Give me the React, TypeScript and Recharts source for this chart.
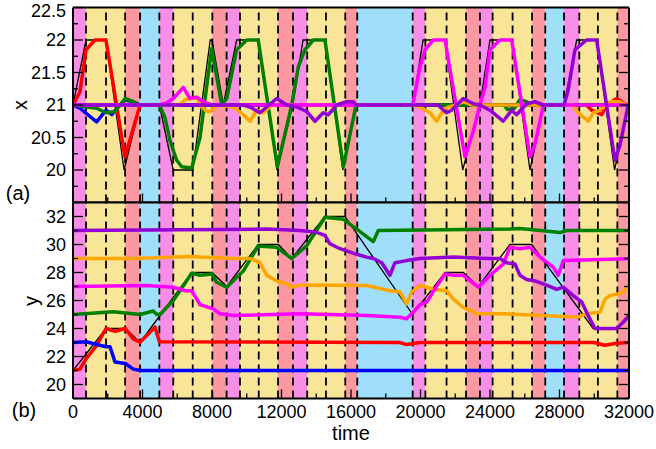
import React from 'react';
import { ComposedChart, Line, XAxis, YAxis, ReferenceArea, ReferenceLine } from 'recharts';

type Pt = [number, number];

// phase bands along the time axis: edges and the phase of each band
const bandEdges = [0, 750, 3000, 3860, 4970, 5770, 8020, 8840, 9610, 11800, 12660, 13480, 15670, 16360, 19550, 20280, 22620, 23420, 24150, 26420, 27180, 28260, 29140, 31330, 32000];
const bandKinds = ['p', 'y', 's', 'b', 'p', 'y', 's', 'p', 'y', 's', 'p', 'y', 's', 'b', 'p', 'y', 's', 'p', 'y', 's', 'b', 'p', 'y', 's'];
const dashTimes = [750, 1900, 3000, 3860, 4970, 5770, 6890, 8020, 8840, 9610, 10690, 11800, 12660, 13480, 14560, 15670, 16360, 19550, 20280, 21500, 22620, 23420, 24150, 25300, 26420, 27180, 28260, 29140, 30210, 31330];

const timeTicks = [0, 2000, 4000, 6000, 8000, 10000, 12000, 14000, 16000, 18000, 20000, 22000, 24000, 26000, 28000, 30000, 32000];
const xTicks = [19.5, 19.75, 20, 20.25, 20.5, 20.75, 21, 21.25, 21.5, 21.75, 22, 22.25, 22.5];
const yTicks = [19, 20, 21, 22, 23, 24, 25, 26, 27, 28, 29, 30, 31, 32, 33];

// panel (a): x position
const targetX: Pt[] = [[0, 21], [750, 22], [1900, 22], [2940, 20], [3860, 21], [4970, 21], [5770, 20], [6890, 20], [7900, 22], [8000, 22], [8650, 21], [9420, 22], [10690, 22], [11740, 20], [12640, 21], [13240, 22], [14500, 22], [15530, 20], [16300, 21], [19550, 21], [20150, 22], [21400, 22], [22430, 20], [23420, 21], [24000, 22], [25250, 22], [26300, 20], [27100, 21], [28260, 21], [28990, 22], [30140, 22], [31170, 20], [31950, 21], [32000, 21]];
const redX: Pt[] = [[0, 21], [400, 21.2], [750, 21.85], [1270, 22], [1900, 22], [2990, 20.2], [3860, 21], [29560, 21], [29850, 20.92], [30430, 20.85], [30710, 21.0], [31290, 21.1], [31770, 21.02], [32000, 21]];
const blueX: Pt[] = [[0, 21], [400, 20.95], [1360, 20.74], [1900, 20.92], [2230, 20.85], [2520, 20.95], [3000, 21.08], [3470, 21.05], [3860, 21], [32000, 21]];
const greenX: Pt[] = [[0, 21], [1360, 20.95], [1900, 20.88], [2420, 20.9], [3000, 21.1], [3470, 21.05], [3860, 21], [4970, 21], [5300, 20.8], [5580, 20.45], [5970, 20.15], [6260, 20.05], [6830, 20.03], [7310, 20.5], [7980, 21.87], [8560, 21], [8850, 21.1], [9420, 21.85], [10000, 22], [10660, 22], [11760, 20.05], [12590, 21], [12970, 21.59], [13350, 21.85], [13830, 22], [14500, 22], [15560, 20.05], [16290, 21], [24800, 21], [25000, 20.93], [25400, 20.95], [25720, 21.08], [26110, 21.05], [26400, 21], [32000, 21]];
const orangeX: Pt[] = [[0, 21], [6160, 21], [6450, 21.08], [7120, 21.12], [7310, 21.0], [7700, 20.9], [7900, 20.9], [8270, 21], [9230, 20.97], [9800, 20.85], [10190, 20.75], [10570, 20.92], [10950, 20.88], [11430, 21.0], [19550, 21], [19970, 20.97], [20550, 20.88], [20930, 20.75], [21310, 20.92], [21600, 20.97], [22080, 21.0], [22460, 21.05], [23000, 21], [28800, 21], [29000, 20.9], [29660, 20.75], [29940, 20.88], [30330, 20.92], [30900, 21.05], [31480, 21.05], [31940, 21], [32000, 21]];
const magentaX: Pt[] = [[0, 21], [4970, 21], [5390, 21.03], [5770, 21.1], [6350, 21.27], [6730, 21.1], [7120, 21.12], [7480, 21.05], [8000, 21], [19550, 21], [19970, 21.59], [20260, 21.85], [20740, 22], [21410, 22], [22560, 20.2], [23040, 20.6], [23420, 21], [23710, 21.27], [24000, 21.85], [24570, 22], [25250, 22], [26300, 20.2], [26590, 20.4], [27070, 21], [32000, 21]];
const purpleX: Pt[] = [[0, 21], [9800, 21], [10190, 20.97], [10760, 20.88], [11150, 20.97], [11720, 21.1], [12300, 21.0], [12870, 20.97], [13450, 20.9], [13930, 20.75], [14400, 20.88], [14690, 20.85], [15180, 21.0], [15750, 21.05], [16130, 21.05], [16330, 21], [21000, 21], [21500, 20.88], [21790, 20.92], [22460, 21.1], [23040, 21.02], [23420, 21.0], [24000, 20.92], [24760, 20.75], [25250, 20.92], [25530, 20.85], [26110, 21.02], [26590, 21.05], [27070, 21.0], [28260, 21], [28500, 21.23], [28890, 21.85], [29560, 22], [30140, 22], [31190, 20.15], [31480, 20.38], [31950, 21], [32000, 21]];

// panel (b): y position
const targetY: Pt[] = [[0, 21], [1900, 24], [3010, 24], [3860, 23], [6830, 28], [8000, 28], [8850, 27], [10660, 30], [11820, 30], [12590, 29], [14500, 32], [15650, 32], [19550, 25], [21410, 28], [22460, 28], [23330, 27], [25150, 30], [26400, 30], [29940, 24], [31290, 24], [32000, 25]];
const redY: Pt[] = [[0, 21], [400, 21.1], [750, 21.83], [1360, 22.8], [1900, 24], [2420, 23.8], [3010, 24], [3470, 23.26], [3860, 23.02], [4330, 23.6], [4720, 24.1], [4970, 23.05], [18800, 23], [19200, 22.85], [19970, 23.0], [30000, 23], [30600, 22.8], [31300, 22.95], [32000, 23]];
const blueY: Pt[] = [[0, 23], [750, 23.05], [1550, 22.8], [1900, 22.7], [2130, 22.7], [2420, 21.6], [3010, 21.5], [3470, 21.1], [3860, 21.0], [32000, 21]];
const greenY: Pt[] = [[0, 25], [2320, 25.2], [3860, 25], [4620, 25.25], [4820, 25], [5010, 25], [5770, 26.0], [6160, 26.7], [6830, 27.95], [7310, 27.8], [8000, 27.9], [8270, 27.3], [8850, 26.95], [9800, 28.1], [10660, 29.9], [11720, 29.8], [12590, 29.0], [13450, 29.9], [14500, 31.95], [15560, 31.8], [16330, 31.1], [17280, 30.2], [17570, 31.0], [25150, 31.1], [25720, 31.15], [26880, 31], [28030, 30.85], [28410, 31], [32000, 31]];
const orangeY: Pt[] = [[0, 29], [3470, 29], [6830, 29.15], [7310, 29.1], [9230, 29.0], [10190, 29.0], [10760, 28.7], [11150, 27.8], [11720, 27.4], [12300, 27.2], [12590, 26.95], [13060, 27.1], [16900, 27.07], [18240, 26.7], [18820, 26.6], [19200, 25.76], [19490, 26.6], [19970, 27.07], [20740, 26.8], [21500, 26.7], [21890, 26.1], [22460, 25.5], [23040, 25.2], [23140, 25.05], [24760, 25.05], [27640, 24.9], [28990, 24.8], [29560, 25.05], [30330, 25.17], [30620, 26.1], [30900, 26.35], [31480, 26.5], [31860, 26.8], [32000, 27.07]];
const magentaY: Pt[] = [[0, 27], [4240, 27.07], [5770, 26.95], [6450, 26.7], [6830, 26.7], [7310, 25.7], [8070, 25.4], [8460, 25.05], [9230, 24.93], [13060, 25.05], [16900, 24.93], [18820, 24.8], [19200, 24.7], [19580, 25.17], [19970, 25.7], [20360, 25.88], [20830, 26.83], [21410, 27.9], [21890, 27.8], [22460, 27.8], [23330, 26.95], [23810, 27.55], [24190, 28.0], [24760, 28.6], [25150, 29.8], [25720, 29.7], [26300, 29.8], [26880, 29.1], [27260, 28.74], [27640, 28.38], [27930, 27.8], [28220, 28.86], [32000, 28.98]];
const purpleY: Pt[] = [[0, 31], [11150, 31.1], [13060, 31], [13930, 30.9], [14500, 30.65], [14790, 30.05], [15370, 29.7], [16330, 29.3], [16900, 29.1], [17280, 29.0], [17770, 28.7], [18240, 27.8], [18530, 28.7], [19200, 28.85], [19970, 29.0], [21890, 29.1], [23810, 29.0], [24570, 29.0], [24960, 28.7], [25440, 28.6], [25720, 27.8], [26110, 27.5], [26590, 27.4], [27260, 27.1], [27840, 26.8], [28220, 26.95], [28790, 26.35], [29280, 25.9], [29660, 24.9], [30040, 24.0], [31290, 24.0], [31670, 24.45], [32000, 24.9]];

const FONT = '"Liberation Sans", Arial, Helvetica, sans-serif';
const phaseFill: Record<string, string> = { p: '#f88fe6', y: '#f9e598', s: '#fc98a2', b: '#9fdff9' };
const agentColors = ['#ff0000', '#0000ff', '#008000', '#ffa500', '#ff00ff', '#9400d3'];

const rows = (pts: Pt[]) => pts.map(([t, v]) => ({ t, v }));

function Panel({ height, margin, domain, ticks, isMajor, hasLabel, target, series, timeLabels }: any) {
  const tickLine = (x1: number, y1: number, x2: number, y2: number) => (
    <line x1={x1} y1={y1} x2={x2} y2={y2} stroke="#000" strokeWidth={1.3} />
  );
  const bottomTick = (p: any) => {
    const v = p.payload.value;
    const major = v % 4000 === 0;
    return (
      <g>
        {tickLine(p.x, p.y, p.x, p.y - (major ? 9 : 5))}
        {timeLabels && major && (
          <text x={p.x} y={p.y + 19.5} textAnchor="middle" fontSize={18} fontFamily={FONT} fill="#000">{v}</text>
        )}
      </g>
    );
  };
  const topTick = (p: any) => {
    const major = p.payload.value % 4000 === 0;
    return <g>{tickLine(p.x, p.y, p.x, p.y + (major ? 9 : 5))}</g>;
  };
  const leftTick = (p: any) => {
    const v = p.payload.value;
    return (
      <g>
        {tickLine(p.x, p.y, p.x + (isMajor(v) ? 10 : 5), p.y)}
        {hasLabel(v) && (
          // keep the top label inside the page
          <text x={p.x - 7} y={Math.max(p.y + 6.4, 16.5)} textAnchor="end" fontSize={18} fontFamily={FONT} fill="#000">{v}</text>
        )}
      </g>
    );
  };
  const rightTick = (p: any) => {
    const v = p.payload.value;
    return <g>{tickLine(p.x, p.y, p.x - (isMajor(v) ? 10 : 5), p.y)}</g>;
  };
  const frame = { stroke: '#000', strokeWidth: 2 };

  return (
    <ComposedChart width={656} height={height} margin={margin}>
      {bandKinds.map((k, i) => (
        <ReferenceArea key={'b' + i} x1={bandEdges[i]} x2={bandEdges[i + 1]} fill={phaseFill[k]} fillOpacity={1} stroke="none" />
      ))}
      {dashTimes.map((t) => (
        <ReferenceLine key={'d' + t} x={t} stroke="#000" strokeWidth={1.8} strokeDasharray="8 5" />
      ))}
      <Line data={rows(target)} dataKey="v" stroke="#000" strokeWidth={1.3} dot={false} isAnimationActive={false} />
      {series.map((s: Pt[], i: number) => (
        <Line key={'s' + i} data={rows(s)} dataKey="v" stroke={agentColors[i]} strokeWidth={3.5}
          strokeLinejoin="round" dot={false} isAnimationActive={false} />
      ))}
      <XAxis dataKey="t" type="number" domain={[0, 32000]} ticks={timeTicks} interval={0} height={1}
        allowDataOverflow tickSize={0} tickMargin={0} tickLine={false} tick={bottomTick} axisLine={frame} />
      <XAxis xAxisId="top" orientation="top" type="number" domain={[0, 32000]} ticks={timeTicks} interval={0} height={1}
        allowDataOverflow tickSize={0} tickMargin={0} tickLine={false} tick={topTick} axisLine={frame} />
      <YAxis type="number" domain={domain} ticks={ticks} interval={0} width={60} allowDataOverflow
        tickSize={0} tickMargin={0} tickLine={false} tick={leftTick} axisLine={frame} />
      <YAxis yAxisId="r" orientation="right" type="number" domain={domain} ticks={ticks} interval={0} width={1} allowDataOverflow
        tickSize={0} tickMargin={0} tickLine={false} tick={rightTick} axisLine={frame} />
    </ComposedChart>
  );
}

const textStyle = (left: number, top: number, size: number, rotate = 0): React.CSSProperties => ({
  position: 'absolute', left, top, fontFamily: FONT, fontSize: size, lineHeight: 1, whiteSpace: 'nowrap',
  transform: `translate(-50%, -50%) rotate(${rotate}deg)`, color: '#000',
});

export default function App() {
  return (
    <div style={{ position: 'absolute', left: 0, top: 0, width: 656, height: 449, background: '#fff', overflow: 'hidden' }}>
      <div style={{ position: 'absolute', left: 0, top: 0 }}>
        <Panel height={204} margin={{ top: 6.5, right: 26, bottom: 0.5, left: 13 }} domain={[19.5, 22.5]} ticks={xTicks}
          isMajor={(v: number) => (v * 2) % 1 === 0} hasLabel={(v: number) => v >= 20 && (v * 2) % 1 === 0}
          target={targetX} series={[redX, blueX, greenX, orangeX, magentaX, purpleX]} timeLabels={false} />
      </div>
      <div style={{ position: 'absolute', left: 0, top: 201 }}>
        <Panel height={248} margin={{ top: 0.5, right: 26, bottom: 49.5, left: 13 }} domain={[19, 33]} ticks={yTicks}
          isMajor={(v: number) => v % 2 === 0} hasLabel={(v: number) => v % 2 === 0 && v >= 20 && v <= 32}
          target={targetY} series={[redY, blueY, greenY, orangeY, magentaY, purpleY]} timeLabels={true} />
      </div>
      <div style={textStyle(20, 105, 20, -90)}>x</div>
      <div style={textStyle(31, 301, 20, -90)}>y</div>
      <div style={textStyle(18, 193, 20)}>(a)</div>
      <div style={textStyle(24, 410, 20)}>(b)</div>
      <div style={textStyle(351, 432.5, 20)}>time</div>
    </div>
  );
}
